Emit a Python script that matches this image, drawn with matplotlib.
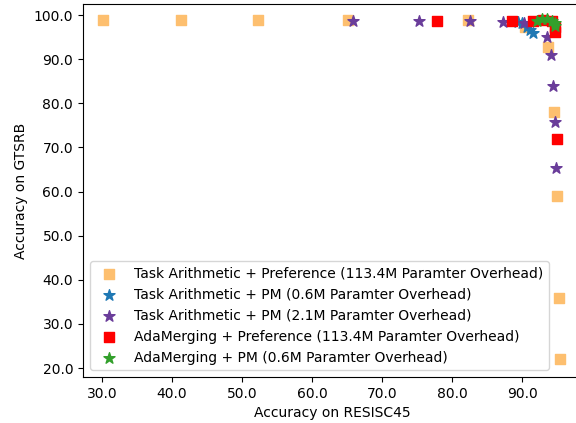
import matplotlib
matplotlib.use("Agg")
import matplotlib.pyplot as plt

# Task Arithmetic + Preference (113.4M)
ta_pref_x = [30.1, 41.3, 52.3, 65.1, 82.3, 90.4, 93.7, 94.6, 95.0, 95.2, 95.4]
ta_pref_y = [98.8, 98.8, 98.8, 98.8, 98.8, 97.3, 92.7, 78.0, 59.0, 35.8, 22.0]

# Task Arithmetic + PM (0.6M)
ta_pm06_x = [89.4, 90.0, 90.7, 91.1, 91.6]
ta_pm06_y = [98.5, 98.1, 97.4, 96.6, 95.9]

# Task Arithmetic + PM (2.1M)
ta_pm21_x = [65.9, 75.3, 82.6, 87.2, 90.3, 93.5, 94.1, 94.4, 94.7, 94.8]
ta_pm21_y = [98.7, 98.7, 98.7, 98.5, 98.1, 95.0, 91.0, 84.0, 75.8, 65.4]

# AdaMerging + Preference (113.4M)
ada_pref_x = [77.8, 88.5, 91.6, 93.0, 94.3, 94.7, 94.7, 95.0]
ada_pref_y = [98.7, 98.6, 98.7, 98.9, 98.7, 97.2, 96.1, 72.0]

# AdaMerging + PM (0.6M)
ada_pm_x = [92.1, 92.8, 93.5, 94.2, 94.7, 94.7]
ada_pm_y = [98.7, 99.0, 99.0, 98.7, 98.1, 97.5]

labels = [
    "Task Arithmetic + Preference (113.4M Paramter Overhead)",
    "Task Arithmetic + PM (0.6M Paramter Overhead)",
    "Task Arithmetic + PM (2.1M Paramter Overhead)",
    "AdaMerging + Preference (113.4M Paramter Overhead)",
    "AdaMerging + PM (0.6M Paramter Overhead)",
]

fig = plt.figure(figsize=(5.76, 4.23), dpi=100)
ax = fig.add_axes([0.144, 0.1087, 1.01 - 0.144, 0.9905 - 0.1087])

ax.scatter(ta_pref_x, ta_pref_y, marker="s", s=50, color="#fdbf6f", label=labels[0])
ax.scatter(ta_pm06_x, ta_pm06_y, marker="*", s=70, color="#1f78b4", label=labels[1])
ax.scatter(ta_pm21_x, ta_pm21_y, marker="*", s=70, color="#6a3d9a", label=labels[2])
ax.scatter(ada_pref_x, ada_pref_y, marker="s", s=50, color="#ff0000", label=labels[3])
ax.scatter(ada_pm_x, ada_pm_y, marker="*", s=70, color="#33a02c", label=labels[4])

ax.set_xlim(27.29, 98.5)
ax.set_ylim(17.97, 102.5)
ax.set_xticks([30, 40, 50, 60, 70, 80, 90])
ax.set_yticks([20, 30, 40, 50, 60, 70, 80, 90, 100])
ax.xaxis.set_major_formatter(matplotlib.ticker.FormatStrFormatter("%.1f"))
ax.yaxis.set_major_formatter(matplotlib.ticker.FormatStrFormatter("%.1f"))
ax.set_xlabel("Accuracy on RESISC45")
ax.set_ylabel("Accuracy on GTSRB")
ax.legend(loc="lower left")

fig.savefig("out.png", dpi=100)
